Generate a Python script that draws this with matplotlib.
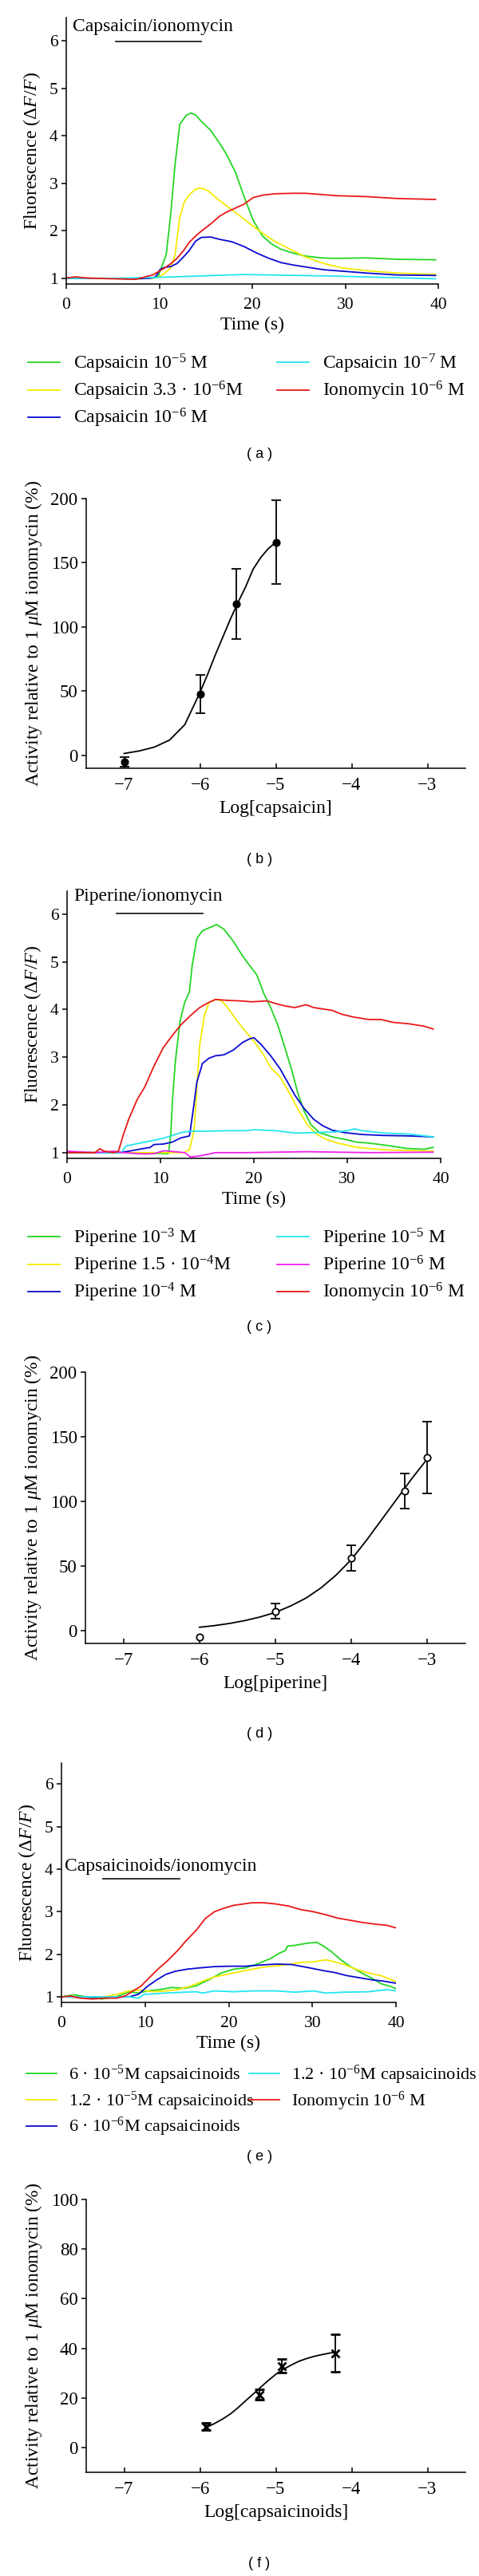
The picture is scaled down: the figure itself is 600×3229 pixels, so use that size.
import numpy as np
import matplotlib
matplotlib.use("Agg")
import matplotlib.pyplot as plt

plt.rcParams["font.family"] = ["Liberation Serif", "DejaVu Serif"]
plt.rcParams["mathtext.fontset"] = "custom"
plt.rcParams["mathtext.rm"] = "Liberation Serif"
plt.rcParams["mathtext.it"] = "Liberation Serif:italic"
plt.rcParams["mathtext.bf"] = "Liberation Serif:bold"

W, H = 600, 3229

# ---- traces: (time s, dF/F) ----
# (a) capsaicin
CAP_1E5 = [(0, 1.0), (4, 1.0), (8, 0.99), (9.5, 1.01), (9.9, 1.05), (10.75, 1.5), (11.25, 2.39), (11.7, 3.4),
           (12.2, 4.24), (12.9, 4.43), (13.4, 4.48), (13.9, 4.44), (14.5, 4.31), (15.5, 4.12), (16.5, 3.84),
           (17.2, 3.62), (18.2, 3.23), (19.1, 2.73), (20.1, 2.22), (21.1, 1.89), (22.1, 1.72), (23.1, 1.61),
           (24.4, 1.53), (25.7, 1.47), (27.4, 1.43), (29.0, 1.42), (32.3, 1.43), (35.6, 1.40), (39.7, 1.39)]
CAP_33E7 = [(0, 1.0), (5, 1.0), (9, 1.0), (10, 1.03), (10.6, 1.11), (11.25, 1.22), (11.7, 1.5), (12.2, 2.28),
            (12.7, 2.61), (13.2, 2.75), (13.9, 2.88), (14.5, 2.9), (15.2, 2.85), (15.9, 2.73), (17.2, 2.53),
            (18.5, 2.34), (19.8, 2.14), (21.1, 1.95), (22.4, 1.78), (23.8, 1.64), (25.7, 1.45), (27.7, 1.31),
            (29.7, 1.22), (32.3, 1.16), (35.6, 1.11), (39.7, 1.08)]
CAP_1E6 = [(0, 1.0), (4, 1.0), (7, 0.99), (9.0, 1.0), (9.6, 1.03), (10.1, 1.19), (10.6, 1.23), (11.25, 1.25),
           (11.9, 1.31), (12.6, 1.45), (13.2, 1.58), (13.9, 1.78), (14.5, 1.86), (15.5, 1.87), (16.5, 1.82),
           (17.8, 1.77), (19.1, 1.67), (20.5, 1.53), (21.8, 1.42), (23.1, 1.33), (24.4, 1.28), (25.7, 1.24),
           (27.7, 1.18), (29.7, 1.15), (32.3, 1.11), (35.6, 1.07), (39.7, 1.06)]
CAP_1E7 = [(0, 1.0), (5, 1.0), (10, 1.02), (13, 1.04), (16, 1.06), (19, 1.08), (22, 1.07), (25, 1.06),
           (28, 1.05), (32, 1.03), (36, 1.01), (39.7, 0.99)]
IONO_A = [(0, 1.01), (1, 1.03), (2, 1.01), (3, 1.0), (5, 0.99), (7.5, 0.98), (8.5, 1.03), (9.3, 1.07),
          (9.9, 1.14), (10.6, 1.22), (11.25, 1.31), (11.9, 1.42), (12.6, 1.58), (13.2, 1.75), (13.9, 1.89),
          (14.5, 1.99), (15.5, 2.14), (16.5, 2.31), (17.2, 2.39), (18.2, 2.48), (19.1, 2.56), (20.1, 2.70),
          (21.1, 2.75), (22.4, 2.78), (24.4, 2.79), (25.7, 2.79), (29.0, 2.74), (32.3, 2.72), (35.6, 2.68),
          (39.7, 2.66)]

# (c) piperine
PIP_1E3 = [(0, 1.0), (5, 1.0), (10.85, 0.98), (11.1, 1.36), (11.3, 2.14), (11.6, 2.92), (12.1, 3.76), (12.6, 4.15),
           (13.1, 4.37), (13.4, 4.93), (13.9, 5.49), (14.5, 5.65), (15.2, 5.71), (16.0, 5.78), (16.8, 5.68),
           (17.8, 5.43), (18.8, 5.12), (19.5, 4.93), (20.3, 4.73), (21.1, 4.32), (21.8, 4.04), (22.6, 3.65),
           (23.4, 3.15), (24.1, 2.70), (24.7, 2.25), (25.4, 1.86), (26.1, 1.59), (27.0, 1.42), (28.4, 1.33),
           (29.7, 1.28), (31.0, 1.22), (32.3, 1.20), (34.3, 1.15), (36.3, 1.09), (38.2, 1.07), (39.2, 1.11)]
PIP_15E4 = [(0, 1.0), (6, 1.0), (12.5, 1.0), (13.1, 1.06), (13.6, 1.47), (13.9, 2.37), (14.2, 3.26), (14.7, 3.87),
            (15.2, 4.15), (15.9, 4.21), (16.5, 4.19), (17.2, 4.04), (18.2, 3.76), (19.1, 3.54), (20.1, 3.31),
            (21.1, 3.03), (21.8, 2.78), (22.8, 2.59), (23.8, 2.25), (24.7, 1.92), (25.7, 1.59), (26.7, 1.39),
            (27.7, 1.28), (29.0, 1.20), (31.0, 1.11), (33.9, 1.06), (39.2, 1.03)]
PIP_1E4 = [(0, 1.0), (5.6, 1.0), (6.6, 1.03), (8.0, 1.08), (8.9, 1.11), (9.3, 1.17), (10.3, 1.18), (11.25, 1.22),
           (12.2, 1.31), (13.1, 1.35), (13.2, 1.47), (13.6, 2.03), (13.9, 2.48), (14.5, 2.87), (15.2, 2.98),
           (15.9, 3.03), (16.8, 3.05), (17.8, 3.15), (18.8, 3.31), (19.5, 3.38), (20.0, 3.41), (20.8, 3.26),
           (21.8, 3.03), (22.8, 2.76), (23.6, 2.48), (24.4, 2.20), (25.4, 1.92), (26.4, 1.70), (27.4, 1.56),
           (28.4, 1.47), (29.7, 1.42), (31.6, 1.38), (33.9, 1.36), (36.6, 1.35), (39.2, 1.33)]
PIP_1E5 = [(0, 1.0), (5.8, 1.0), (6.3, 1.14), (7.3, 1.18), (8.3, 1.22), (9.3, 1.26), (10.3, 1.30), (11.25, 1.36),
           (12.2, 1.42), (13.2, 1.45), (15.2, 1.45), (17.2, 1.46), (19.1, 1.46), (20.1, 1.48), (22.4, 1.46),
           (24.4, 1.41), (26.4, 1.42), (28.4, 1.43), (30.0, 1.46), (30.8, 1.50), (31.6, 1.46), (33.9, 1.41),
           (36.6, 1.39), (39.2, 1.33)]
PIP_1E6 = [(0, 1.03), (3, 1.0), (5.0, 1.03), (6.0, 1.0), (8.3, 0.97), (9.3, 0.98), (10.4, 1.04), (12.6, 1.0),
           (13.2, 0.91), (14.2, 0.93), (15.9, 1.0), (19.1, 1.0), (25.7, 1.02), (32.3, 1.0), (39.2, 1.01)]
IONO_C = [(0, 1.0), (3, 1.0), (3.5, 1.08), (4.0, 1.03), (5.0, 1.0), (5.5, 1.03), (6.0, 1.36), (6.6, 1.70),
          (7.5, 2.11), (8.3, 2.37), (9.3, 2.81), (10.3, 3.20), (11.25, 3.45), (12.2, 3.68), (13.2, 3.87),
          (14.2, 4.04), (15.2, 4.15), (15.9, 4.21), (17.2, 4.19), (18.5, 4.18), (19.8, 4.16), (21.4, 4.18),
          (22.4, 4.12), (23.4, 4.07), (24.4, 4.04), (25.6, 4.10), (26.4, 4.04), (28.4, 3.98), (29.4, 3.90),
          (30.7, 3.84), (32.3, 3.79), (33.6, 3.79), (34.9, 3.73), (36.6, 3.70), (38.2, 3.65), (39.2, 3.59)]

# (e) capsaicinoids
CPN_6E5 = [(0, 1.0), (1.5, 1.05), (3, 1.0), (4.8, 0.95), (6.5, 1.0), (8.1, 1.12), (9.2, 1.09), (10.3, 1.14),
           (11.7, 1.17), (13.2, 1.22), (14.7, 1.20), (16.1, 1.26), (17.6, 1.40), (19.1, 1.56), (20.6, 1.65),
           (22.0, 1.68), (23.5, 1.78), (25.0, 1.90), (26.1, 2.03), (26.8, 2.09), (27.0, 2.19), (27.9, 2.21),
           (29.4, 2.26), (30.5, 2.28), (31.2, 2.21), (32.3, 2.06), (33.4, 1.87), (34.5, 1.72), (35.9, 1.56),
           (37.1, 1.44), (38.2, 1.31), (39.3, 1.25), (40.0, 1.19)]
CPN_12E5 = [(0, 1.0), (5.1, 1.0), (6.6, 1.06), (8.1, 1.14), (9.5, 1.16), (11.0, 1.12), (12.5, 1.14), (13.9, 1.17),
            (15.4, 1.25), (16.9, 1.37), (18.3, 1.47), (19.8, 1.53), (21.3, 1.59), (22.8, 1.65), (24.2, 1.70),
            (25.7, 1.73), (27.2, 1.76), (28.6, 1.81), (30.1, 1.82), (31.6, 1.87), (32.3, 1.84), (33.8, 1.76),
            (35.2, 1.65), (36.7, 1.56), (38.2, 1.50), (40.0, 1.36)]
CPN_6E6 = [(0, 1.0), (3, 0.99), (6, 0.99), (8.1, 1.0), (9.2, 1.06), (10.3, 1.25), (11.4, 1.40), (12.5, 1.53),
           (13.6, 1.60), (15.0, 1.65), (16.5, 1.68), (18.3, 1.71), (20.2, 1.72), (22.0, 1.72), (23.9, 1.75),
           (25.7, 1.77), (27.5, 1.76), (28.6, 1.72), (29.7, 1.68), (31.2, 1.62), (32.7, 1.57), (34.1, 1.50),
           (35.6, 1.45), (37.1, 1.40), (38.5, 1.37), (40.0, 1.32)]
CPN_12E6 = [(0, 1.0), (3.7, 1.0), (8.1, 1.0), (9.2, 0.97), (9.9, 1.06), (11.0, 1.07), (12.5, 1.09), (14.7, 1.11),
            (16.1, 1.12), (16.9, 1.09), (18.3, 1.14), (20.6, 1.12), (22.8, 1.14), (25.7, 1.14), (27.9, 1.11),
            (30.1, 1.14), (31.6, 1.09), (33.8, 1.11), (36.7, 1.12), (38.9, 1.17), (40.0, 1.14)]
IONO_E = [(0, 1.0), (1.1, 1.02), (2.2, 0.97), (3.7, 0.95), (5.1, 0.97), (6.6, 0.97), (7.7, 1.03), (8.4, 1.12),
          (9.5, 1.25), (10.6, 1.47), (11.7, 1.68), (12.8, 1.87), (13.9, 2.09), (15.0, 2.34), (16.1, 2.56),
          (17.2, 2.84), (18.3, 3.0), (19.4, 3.08), (20.6, 3.15), (21.7, 3.18), (22.8, 3.21), (24.2, 3.21),
          (25.7, 3.18), (27.2, 3.13), (28.6, 3.05), (30.1, 3.0), (31.6, 2.93), (33.0, 2.85), (34.5, 2.80),
          (35.9, 2.75), (37.4, 2.71), (38.9, 2.68), (40.0, 2.62)]

# ---- dose response: log concentration, % of ionomycin, sem ----
CAPS_LOG = [-7.0, -6.0, -5.52, -5.0]
CAPS_ACT = [-5, 48, 118, 166]
CAPS_ERR = [4, 15, 27.5, 32.5]
CAPS_FIT = [(-7.0, 1.5), (-6.8, 3.5), (-6.6, 6.5), (-6.4, 12), (-6.2, 24), (-6.0, 49), (-5.9, 63), (-5.8, 78),
            (-5.7, 92), (-5.6, 106), (-5.5, 119), (-5.4, 131), (-5.3, 145), (-5.2, 154), (-5.1, 161), (-5.0, 166)]

PIP_LOG = [-6.0, -5.0, -4.0, -3.3, -3.0]
PIP_ACT = [-5, 15, 56, 108, 134]
PIP_ERR = [np.nan, 6, 10, 13.6, 28]
PIP_FIT = [(-6.0, 2.5), (-5.8, 3.8), (-5.6, 5.5), (-5.4, 7.7), (-5.2, 10.5), (-5.0, 14), (-4.8, 19), (-4.6, 25),
           (-4.4, 33), (-4.2, 43), (-4.0, 55), (-3.8, 70), (-3.6, 86), (-3.4, 102), (-3.2, 118), (-3.0, 133)]

CPN_LOG = [-5.92, -5.22, -4.92, -4.22]
CPN_ACT = [8.4, 21.3, 32.9, 38]
CPN_ERR = [1.5, 2, 2.8, 7.6]
CPN_FIT = [(-5.92, 8), (-5.8, 9.8), (-5.7, 11.5), (-5.6, 13.5), (-5.5, 16), (-5.4, 18.8), (-5.3, 21.5),
           (-5.2, 24.3), (-5.1, 27), (-5.0, 29.5), (-4.9, 31.5), (-4.8, 33.2), (-4.7, 34.7), (-4.6, 35.8),
           (-4.5, 36.7), (-4.4, 37.4), (-4.3, 38), (-4.22, 38.4)]

GREEN, YELLOW, BLUE, CYAN, RED, MAGENTA = "#22d622", "#f5ea00", "#0a0ad2", "#22e6f0", "#e81818", "#f020f0"


def px_axes(left, top, right, bottom):
    return fig.add_axes([left / W, 1 - bottom / H, (right - left) / W, (bottom - top) / H])


def style(ax, xin=False):
    for s in ("top", "right"):
        ax.spines[s].set_visible(False)
    for s in ("left", "bottom"):
        ax.spines[s].set_linewidth(1.1)
    ax.tick_params(axis="y", direction="out", length=4, width=1.1, labelsize=16.5)
    ax.tick_params(axis="x", direction="in" if xin else "out", length=4, width=1.1, labelsize=16.5, pad=8)


def traces(ax, series, colors, ylim, title, title_xy, bar, bar_y):
    lines = []
    for s, c in zip(series, colors):
        t, f = zip(*s)
        ln, = ax.plot(t, f, color=c, lw=1.3)
        lines.append(ln)
    ax.set_xlim(0, 40)
    ax.set_ylim(*ylim)
    ax.set_xticks([0, 10, 20, 30, 40])
    ax.set_yticks([1, 2, 3, 4, 5, 6])
    ax.set_xlabel("Time (s)", fontsize=17, labelpad=4)
    ax.set_ylabel(r"Fluorescence ($\Delta F/F$)", fontsize=17, labelpad=6)
    ax.text(*title_xy, title, fontsize=17, va="center", ha="left")
    ax.plot(bar, [bar_y, bar_y], color="#222222", lw=1.3, clip_on=False)
    style(ax)
    ax.tick_params(labelsize=15.5)
    return lines


def legend_col(handles, labels, x, y, spacing, size=17):
    fig.legend(handles, labels, loc="upper left", bbox_to_anchor=(x / W, 1 - y / H),
               frameon=False, fontsize=size, handlelength=1.7, handletextpad=0.7,
               borderpad=0, borderaxespad=0, labelspacing=spacing)


def dose(ax, logc, act, err, fit, marker, mfc, ylim, yticks, xlabel):
    fx, fy = zip(*fit)
    ax.plot(fx, fy, color="black", lw=1.3)
    ax.errorbar(logc, act, yerr=err, fmt=marker, color="black", mfc=mfc, mec="black",
                ms=6 if marker == "o" else 6.5, mew=1.3 if marker == "o" else 2,
                ecolor="black", elinewidth=1.3, capsize=4, capthick=1.3)
    ax.set_xlim(-7.5, -2.5)
    ax.set_ylim(*ylim)
    ax.set_xticks([-7, -6, -5, -4, -3])
    ax.set_yticks(yticks)
    ax.set_xlabel(xlabel, fontsize=17, labelpad=6)
    ax.set_ylabel(r"Activity relative to 1 $\mu$M ionomycin (%)", fontsize=17, labelpad=6)
    style(ax, xin=True)


fig = plt.figure(figsize=(W / 100, H / 100), dpi=100)

# (a)
ax = px_axes(83, 22, 549, 356)
la = traces(ax, [CAP_1E5, CAP_33E7, CAP_1E6, CAP_1E7, IONO_A], [GREEN, YELLOW, BLUE, CYAN, RED],
            (0.88, 6.49), "Capsaicin/ionomycin", (0.7, 6.3), [5.3, 14.5], 5.98)
legend_col(la[:3], ["Capsaicin 10$^{-5}$ M", "Capsaicin 3.3 · 10$^{-6}$M", "Capsaicin 10$^{-6}$ M"], 35, 442, 0.25)
legend_col(la[3:], ["Capsaicin 10$^{-7}$ M", "Ionomycin 10$^{-6}$ M"], 347, 442, 0.25)

# (b)
ax = px_axes(108, 625, 583, 963)
dose(ax, CAPS_LOG, CAPS_ACT, CAPS_ERR, CAPS_FIT, "o", "black", (-10, 200), [0, 50, 100, 150, 200],
     "Log[capsaicin]")

# (c)
ax = px_axes(84, 1117, 552, 1452)
lc = traces(ax, [PIP_1E3, PIP_15E4, PIP_1E4, PIP_1E5, PIP_1E6, IONO_C],
            [GREEN, YELLOW, BLUE, CYAN, MAGENTA, RED],
            (0.88, 6.48), "Piperine/ionomycin", (0.7, 6.37), [5.3, 14.5], 6.02)
legend_col(lc[:3], ["Piperine 10$^{-3}$ M", "Piperine 1.5 · 10$^{-4}$M", "Piperine 10$^{-4}$ M"], 35, 1538, 0.25)
legend_col(lc[3:], ["Piperine 10$^{-5}$ M", "Piperine 10$^{-6}$ M", "Ionomycin 10$^{-6}$ M"], 347, 1538, 0.25)

# (d)
ax = px_axes(107, 1720, 583, 2060)
dose(ax, PIP_LOG, PIP_ACT, PIP_ERR, PIP_FIT, "o", "white", (-10, 200), [0, 50, 100, 150, 200],
     "Log[piperine]")

# (e)
ax = px_axes(77, 2210, 496, 2510)
le = traces(ax, [CPN_6E5, CPN_12E5, CPN_6E6, CPN_12E6, IONO_E], [GREEN, YELLOW, BLUE, CYAN, RED],
            (0.87, 6.49), "Capsaicinoids/ionomycin", (0.4, 4.07), [5.0, 14.1], 3.77)
legend_col(le[:3], ["6 · 10$^{-5}$M capsaicinoids", "1.2 · 10$^{-5}$M capsaicinoids",
                    "6 · 10$^{-6}$M capsaicinoids"], 33, 2587, 0.2, size=16)
legend_col(le[3:], ["1.2 · 10$^{-6}$M capsaicinoids", "Ionomycin 10$^{-6}$ M"], 312, 2587, 0.2, size=16)

# (f)
ax = px_axes(108, 2757, 583, 3099)
dose(ax, CPN_LOG, CPN_ACT, CPN_ERR, CPN_FIT, "x", "black", (-10, 100), [0, 20, 40, 60, 80, 100],
     "Log[capsaicinoids]")

for lab, y in zip("abcdef", [570, 1078, 1664, 2173, 2703, 3213]):
    fig.text(325 / W, 1 - y / H, f"( {lab} )", ha="center", va="center", fontsize=13,
             family="Liberation Sans")

fig.savefig("out.png", dpi=100)
